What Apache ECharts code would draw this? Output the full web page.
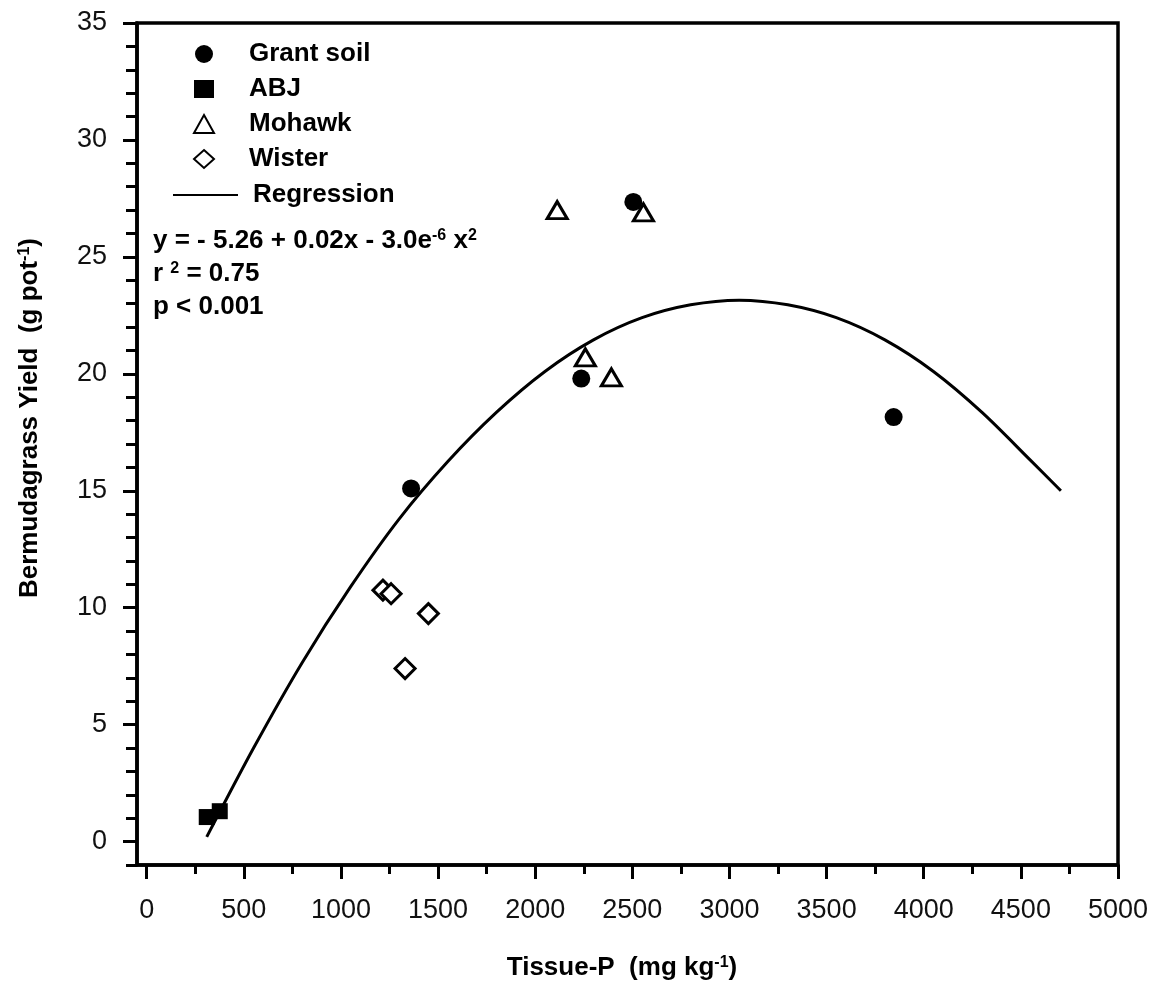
<!DOCTYPE html>
<html>
<head>
<meta charset="utf-8">
<script src="https://cdn.jsdelivr.net/npm/echarts@6/dist/echarts.min.js"></script>
<style>
  html, body { margin: 0; padding: 0; background: #fff; }
  #c1 { width: 1166px; height: 991px; }
</style>
</head>
<body>
<div id="c1"></div>
<script>
var FONT = "'Liberation Sans', Arial, sans-serif";

// data
var grantX = [1361, 2237, 2505, 3845];
var grantY = [15.1, 19.8, 27.35, 18.15];
var abjX = [309, 376];
var abjY = [1.05, 1.3];
var mohawkX = [2113, 2258, 2392, 2557];
var mohawkY = [27.0, 20.7, 19.85, 26.9];
var wisterX = [1216, 1258, 1330, 1450];
var wisterY = [10.75, 10.6, 7.4, 9.75];
// regression curve, traced every ~250 units (peak near 3050)
var regX = [309, 550, 800, 1050, 1300, 1550, 1800, 2050, 2300, 2550, 2800, 3050, 3300, 3550, 3800, 4050, 4300, 4550, 4706];
var regY = [0.2, 4.0, 7.65, 10.9, 13.8, 16.25, 18.35, 20.1, 21.45, 22.4, 22.95, 23.15, 22.95, 22.4, 21.45, 20.1, 18.35, 16.3, 15.0];

var xLabels = [0, 500, 1000, 1500, 2000, 2500, 3000, 3500, 4000, 4500, 5000];
var xMinor = [0, 250, 500, 750, 1000, 1250, 1500, 1750, 2000, 2250, 2500, 2750, 3000, 3250, 3500, 3750, 4000, 4250, 4500, 4750, 5000];
var yLabels = [0, 5, 10, 15, 20, 25, 30, 35];
var yMinor = [-1, 0, 1, 2, 3, 4, 5, 6, 7, 8, 9, 10, 11, 12, 13, 14, 15, 16, 17, 18, 19, 20, 21, 22, 23, 24, 25, 26, 27, 28, 29, 30, 31, 32, 33, 34, 35];

function pairs(xs, ys){
  var out = [];
  for (var i = 0; i < xs.length; i++) out.push([xs[i], ys[i]]);
  return out;
}
function plain(v){ return String(v); }

var supRich = {
  b: {fontFamily: FONT, fontSize: 26, fontWeight: 'bold', color: '#000'},
  s: {fontFamily: FONT, fontSize: 16, fontWeight: 'bold', color: '#000', verticalAlign: 'top'}
};
var legendText = {fontFamily: FONT, fontSize: 26, fontWeight: 'bold', color: '#000'};

var option = {
  animation: false,
  backgroundColor: '#fff',
  grid: {
    left: 137, right: 48, top: 23, bottom: 126,
    show: true, borderColor: '#000', borderWidth: 3.5
  },
  legend: [
    {
      orient: 'vertical',
      left: 188, top: 36,
      itemWidth: 20, itemHeight: 18, itemGap: 9,
      textStyle: Object.assign({padding: [0, 0, 0, 30]}, legendText),
      data: ['Grant soil', 'ABJ', 'Mohawk', 'Wister']
    },
    {
      orient: 'vertical',
      left: 167, top: 177,
      itemWidth: 65, itemHeight: 18,
      textStyle: Object.assign({padding: [0, 0, 0, 10]}, legendText),
      data: [{name: 'Regression', itemStyle: {opacity: 0}}]
    }
  ],
  xAxis: [
    {
      type: 'value', min: -50, max: 5000,
      axisLine: {show: true, onZero: false, lineStyle: {color: '#000', width: 3.5}},
      axisTick: {show: true, length: 9, customValues: xMinor, lineStyle: {color: '#000', width: 3}},
      axisLabel: {customValues: xLabels, formatter: plain, margin: 32, fontFamily: FONT, fontSize: 27, color: '#111'},
      splitLine: {show: false}
    },
    {
      type: 'value', min: -50, max: 5000, position: 'bottom',
      axisLine: {show: false, onZero: false},
      axisTick: {show: true, length: 14, customValues: xLabels, lineStyle: {color: '#000', width: 3}},
      axisLabel: {show: false},
      splitLine: {show: false}
    }
  ],
  yAxis: [
    {
      type: 'value', min: -1, max: 35,
      axisLine: {show: true, onZero: false, lineStyle: {color: '#000', width: 3.5}},
      axisTick: {show: true, length: 11, customValues: yMinor, lineStyle: {color: '#000', width: 3}},
      axisLabel: {customValues: yLabels, formatter: plain, margin: 30, fontFamily: FONT, fontSize: 27, color: '#111'},
      splitLine: {show: false}
    },
    {
      type: 'value', min: -1, max: 35, position: 'left',
      axisLine: {show: false, onZero: false},
      axisTick: {show: true, length: 14, customValues: yLabels, lineStyle: {color: '#000', width: 3}},
      axisLabel: {show: false},
      splitLine: {show: false}
    }
  ],
  series: [
    {
      name: 'Regression', type: 'line', smooth: 0.3,
      symbol: 'none', showSymbol: false,
      lineStyle: {color: '#000', width: 3},
      itemStyle: {color: '#000'},
      data: pairs(regX, regY), z: 1
    },
    {
      name: 'Grant soil', type: 'scatter', symbol: 'circle', symbolSize: 18,
      itemStyle: {color: '#000', opacity: 1},
      data: pairs(grantX, grantY), z: 3
    },
    {
      name: 'ABJ', type: 'scatter', symbol: 'rect', symbolSize: 16,
      itemStyle: {color: '#000', opacity: 1},
      data: pairs(abjX, abjY), z: 3
    },
    {
      name: 'Mohawk', type: 'scatter', symbol: 'triangle', symbolSize: [20, 17],
      itemStyle: {color: '#fff', borderColor: '#000', borderWidth: 3, opacity: 1},
      data: pairs(mohawkX, mohawkY), z: 3
    },
    {
      name: 'Wister', type: 'scatter', symbol: 'diamond', symbolSize: [20, 20],
      itemStyle: {color: '#fff', borderColor: '#000', borderWidth: 3, opacity: 1},
      data: pairs(wisterX, wisterY), z: 3
    }
  ],
  graphic: [
    {
      type: 'text', x: 153, y: 228,
      style: {text: '{b|y = - 5.26 + 0.02x - 3.0e}{s|-6}{b| x}{s|2}', rich: supRich}
    },
    {
      type: 'text', x: 153, y: 261,
      style: {text: '{b|r }{s|2}{b| = 0.75}', rich: supRich}
    },
    {
      type: 'text', x: 153, y: 294,
      style: {text: '{b|p < 0.001}', rich: supRich}
    },
    {
      type: 'text', x: 622, y: 968,
      style: {text: '{b|Tissue-P  (mg kg}{s|-1}{b|)}', rich: supRich, align: 'center', verticalAlign: 'middle'}
    },
    {
      type: 'text', x: 30, y: 418, rotation: Math.PI / 2,
      style: {text: '{b|Bermudagrass Yield  (g pot}{s|-1}{b|)}', rich: supRich, align: 'center', verticalAlign: 'middle'}
    }
  ]
};

var myChart = echarts.init(document.getElementById('c1'));
myChart.setOption(option);
window.onresize = myChart.resize;
</script>
</body>
</html>
